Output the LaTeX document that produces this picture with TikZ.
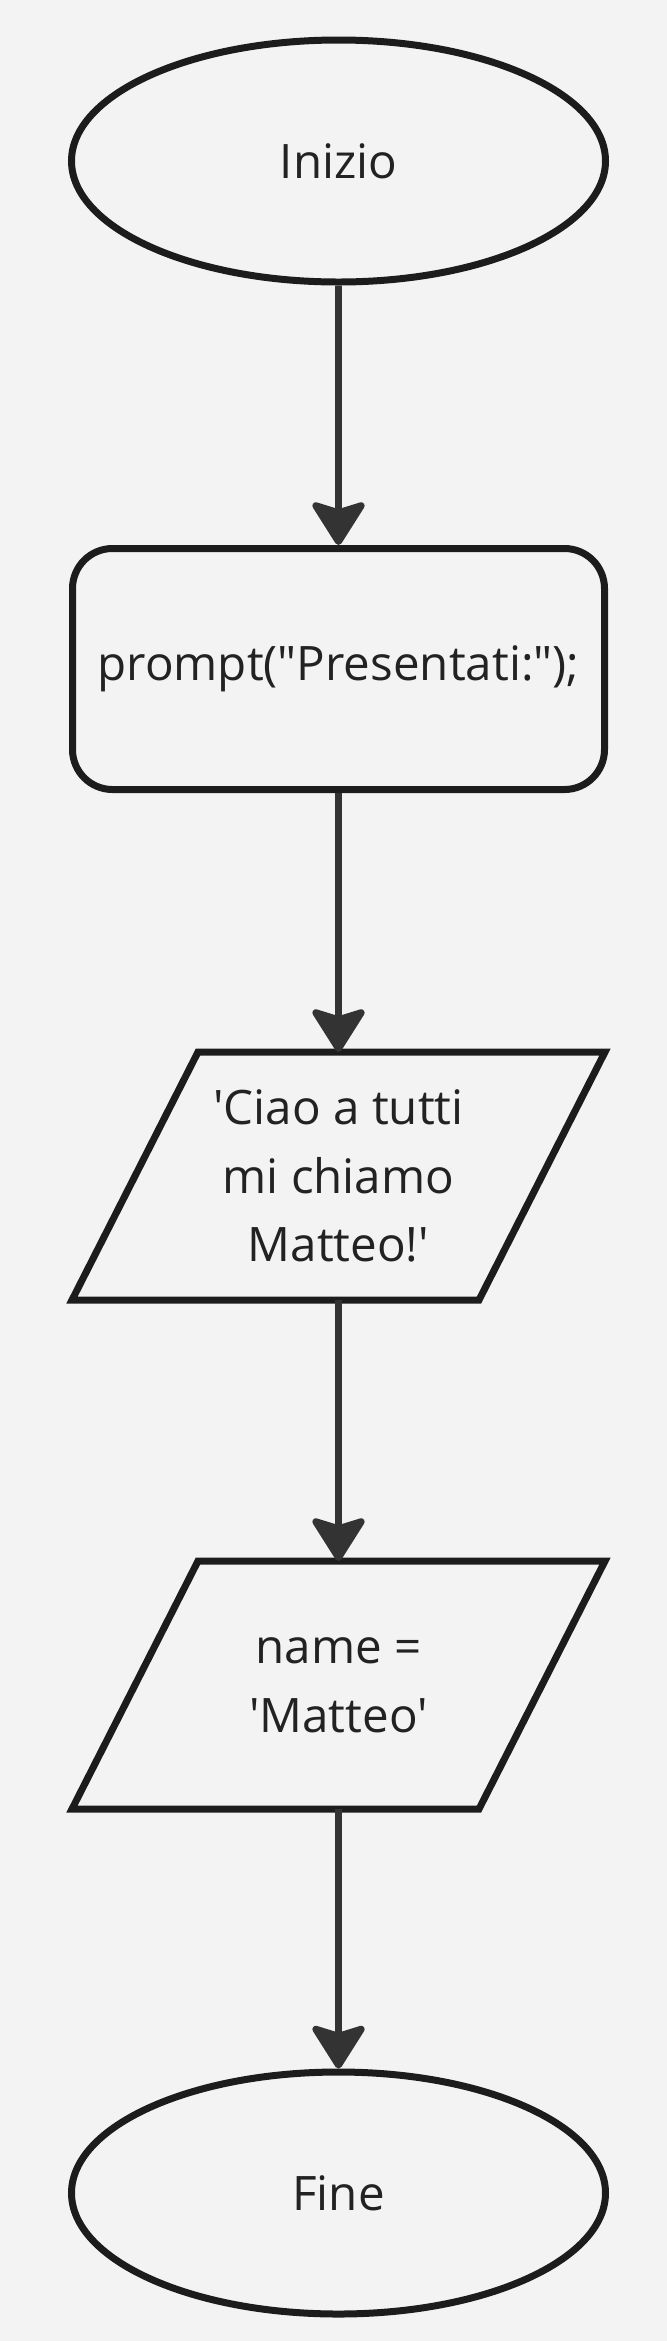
\documentclass[tikz,border=0pt]{standalone}
\usepackage{fontspec}
\setmainfont{Open Sans}[Ligatures=TeXOff]
\usepackage{tikz}
\usetikzlibrary{shapes.geometric,arrows.meta}

\definecolor{sfondo}{HTML}{F3F3F3}
\definecolor{bordo}{HTML}{1C1C1C}
\definecolor{freccia}{HTML}{333333}
\definecolor{testo}{HTML}{222222}

\tikzset{
  blocco/.style={line width=3.5pt, text=testo, inner sep=0pt,
    font=\fontsize{23.75}{34.3}\selectfont, align=center},
  terminale/.style={blocco, draw=bordo, ellipse, minimum width=267pt, minimum height=121pt},
  istruzione/.style={blocco, draw=bordo, rectangle, rounded corners=20pt, minimum width=266pt, minimum height=120.5pt},
  ingresso/.style={blocco, rectangle, minimum width=263pt, minimum height=120.5pt},
  contorno/.style={draw=bordo, line width=3.5pt, line join=miter},
  flusso/.style={draw=freccia, line width=3.5pt,
    -{Stealth[length=24pt, width=30pt, inset=4.5pt, round]}}
}

\begin{document}
\begin{tikzpicture}[x=0.5pt, y=-0.5pt]
      \fill[sfondo] (0, 0) rectangle (667, 2341);

      \node[terminale]  (inizio) at (338.5, 161)  {Inizio};
      \node[istruzione] (prompt) at (338.5, 669)  {prompt("Presentati:");};
      \node[ingresso]   (saluto) at (338.5, 1176) {'Ciao a tutti\\mi chiamo\\Matteo!'};
      \node[ingresso]   (nome)   at (338.5, 1685) {name =\\'Matteo'};
      \node[terminale]  (fine)   at (338.5, 2193) {Fine};

      % parallelogrammi di input/output
      \foreach \n in {saluto, nome} {
        \draw[contorno] (\n.south west) -- ([xshift=-63pt]\n.south east)
          -- (\n.north east) -- ([xshift=63pt]\n.north west) -- cycle;
      }

      \draw[flusso] (inizio) -- (prompt);
      \draw[flusso] (prompt) -- (saluto);
      \draw[flusso] (saluto) -- (nome);
      \draw[flusso] (nome)   -- (fine);

    \end{tikzpicture}
\end{document}
